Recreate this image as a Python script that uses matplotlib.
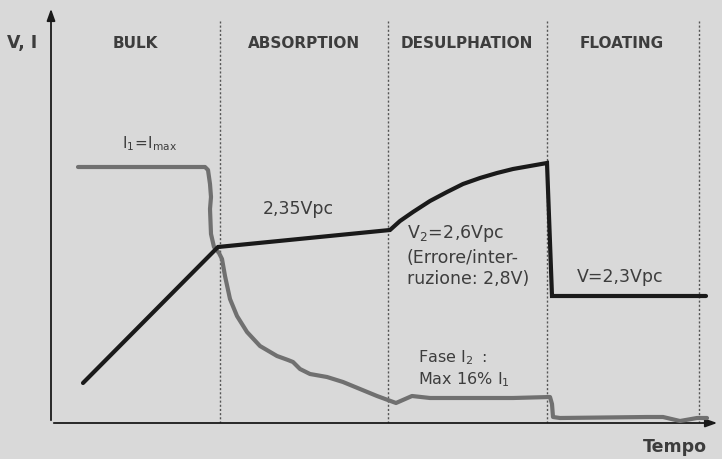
import matplotlib
matplotlib.use("Agg")
import matplotlib.pyplot as plt

# ---------------- data (time units, value units) ----------------
volt_t = [32, 167, 339, 349, 362, 379, 396, 412, 429, 446, 462, 479, 496, 501, 655]
volt_v = [40, 176, 193, 202, 211, 222, 231, 239, 245, 250, 254, 257, 260, 127, 127]

curr_t = [27, 154, 157, 159, 160, 159, 160, 163, 168, 171, 174, 179, 186, 196, 209,
          226, 237, 242, 249, 259, 276, 292, 309, 326, 345, 361, 379, 462, 499, 501,
          502, 509, 596, 612, 629, 646, 656]
curr_v = [256, 256, 253, 239, 226, 214, 189, 176, 170, 164, 147, 124, 107, 91, 77,
          67, 63, 61, 54, 49, 46, 41, 34, 27, 20, 27, 25, 25, 26, 19,
          6, 5, 6, 6, 2, 5, 5]

phase_bounds = [169, 337, 496, 648]
phase_names = ["BULK", "ABSORPTION", "DESULPHATION", "FLOATING"]
phase_centers = [84, 253, 416, 571]

BG = "#d9d9d9"
TXT = "#3d3d3d"
FONT = "DejaVu Sans"

plt.rcParams['font.family'] = FONT
plt.rcParams['mathtext.fontset'] = 'dejavusans'

fig = plt.figure(figsize=(7.22, 4.60), dpi=100, facecolor=BG)
ax = fig.add_axes([51/722, 36/460, 671/722, 424/460])
ax.set_facecolor(BG)
ax.set_xlim(0, 671)
ax.set_ylim(0, 424)
ax.axis('off')

# axes arrows
ax.annotate("", xy=(0, 417), xytext=(0, 0),
            arrowprops=dict(arrowstyle="-|>,head_length=0.7,head_width=0.25", color="#1a1a1a", lw=1.3),
            annotation_clip=False)
ax.annotate("", xy=(669, 0), xytext=(0, 0),
            arrowprops=dict(arrowstyle="-|>,head_length=0.7,head_width=0.25", color="#1a1a1a", lw=1.3),
            annotation_clip=False)

# phase boundaries
for b in phase_bounds:
    ax.plot([b, b], [0, 402], color="#555555", lw=1.0, ls=(0, (1.5, 1.5)), zorder=1)

# headers
for name, c in zip(phase_names, phase_centers):
    ax.text(c, 381, name, ha="center", va="center", fontsize=11, fontweight="bold",
            color=TXT)
ax.text(-29, 381, "V, I", ha="center", va="center", fontsize=12.5, fontweight="bold",
        color=TXT, clip_on=False)
ax.text(624, -23, "Tempo", ha="center", va="center", fontsize=12.5, fontweight="bold",
        color=TXT, clip_on=False)

# curves
ax.plot(curr_t, curr_v, color="#707070", lw=3.0, solid_capstyle="round",
        solid_joinstyle="round", zorder=3)
ax.plot(volt_t, volt_v, color="#1a1a1a", lw=3.0, solid_capstyle="round",
        solid_joinstyle="miter", zorder=4)

# annotations
ax.text(71, 271, r"$\mathregular{I_1\!=\!I_{max}}$", ha="left", va="bottom", fontsize=11, color=TXT)
ax.text(212, 215, "2,35Vpc", ha="left", va="center", fontsize=12.5, color=TXT)
ax.text(356, 190, r"$\mathregular{V_2\!=\!2{,}6Vpc}$", ha="left", va="center", fontsize=12.5, color=TXT)
ax.text(356, 166, "(Errore/inter-", ha="left", va="center", fontsize=12.5, color=TXT)
ax.text(356, 145, "ruzione: 2,8V)", ha="left", va="center", fontsize=12.5, color=TXT)
ax.text(526, 147, "V=2,3Vpc", ha="left", va="center", fontsize=12.5, color=TXT)
ax.text(367, 66, r"$\mathregular{Fase\ I_2\ :}$", ha="left", va="center", fontsize=11.5, color=TXT)
ax.text(367, 44, r"$\mathregular{Max\ 16\%\ I_1}$", ha="left", va="center", fontsize=11.5, color=TXT)

fig.savefig("out.png", dpi=100, facecolor=BG)
